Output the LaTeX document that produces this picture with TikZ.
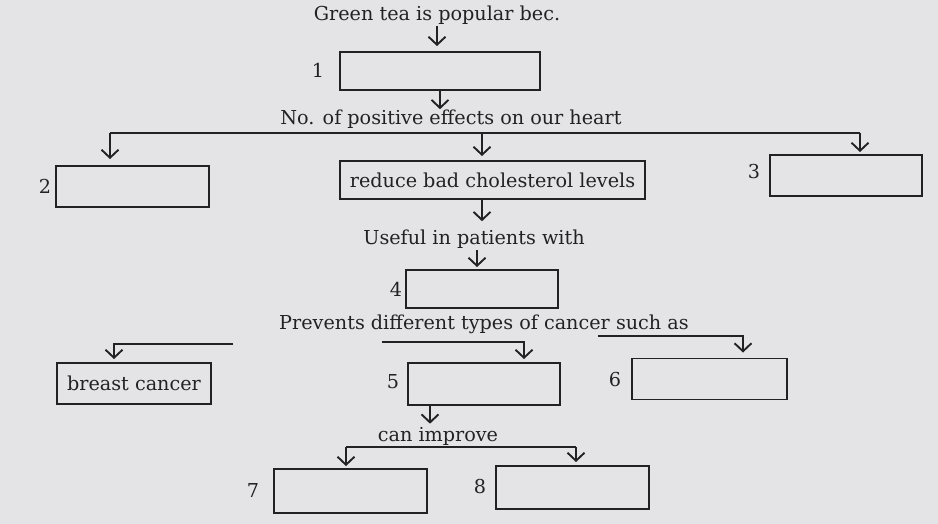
\documentclass[tikz,border=0pt]{standalone}
\usepackage{fontspec}
\newfontfamily\reffont{DejaVu Serif}
\usetikzlibrary{arrows.meta}
\definecolor{bg}{RGB}{228,228,231}
\definecolor{ink}{RGB}{34,34,36}
\tikzset{
  every node/.style={text=ink, font=\reffont\fontsize{19.2}{22}\selectfont, inner sep=0pt},
  box/.style={draw=ink, line width=1.9pt, rectangle},
  tx/.style={anchor=base},
  conn/.style={draw=ink, line width=1.9pt},
  arr/.style={conn, -{Straight Barb[length=8pt,width=17pt,line width=1.9pt]}},
}
\begin{document}
\begin{tikzpicture}[x=1pt,y=-1pt]
\fill[bg] (0,0) rectangle (938,524);
\useasboundingbox (0,0) rectangle (938,524);
% text nodes
\node[tx] (t0) at (437,20.5) {Green tea is popular bec.};
\node[tx] (t1) at (451,125) {No. of positive effects on our heart};
\node[tx] (t2) at (474,244) {Useful in patients with};
\node[tx] (t3) at (484,329) {Prevents different types of cancer such as};
\node[tx] (t4) at (438,441) {can improve};
% boxes
\node[box, minimum width=200, minimum height=38] (b1) at (440,71) {};
\node[box, minimum width=153, minimum height=41] (b2) at (132.5,186.5) {};
\node[box, minimum width=305, minimum height=38] (bc) at (492.5,180) {reduce bad cholesterol levels};
\node[box, minimum width=152, minimum height=41] (b3) at (846,175.5) {};
\node[box, minimum width=152, minimum height=38] (b4) at (482,289) {};
\node[box, minimum width=154, minimum height=41] (bb) at (134,383.5) {breast cancer};
\node[box, minimum width=152, minimum height=42] (b5) at (484,384) {};
\node[box, minimum width=155, minimum height=41] (b6) at (709.5,379) {};
\node[box, minimum width=153, minimum height=44] (b7) at (350.5,491) {};
\node[box, minimum width=153, minimum height=43] (b8) at (572.5,487.5) {};
% number labels
\node (n1) at (318,70) {1};
\node (n2) at (45,186) {2};
\node (n3) at (754,172) {3};
\node (n4) at (396,289) {4};
\node (n5) at (393,382) {5};
\node (n6) at (615,380) {6};
\node (n7) at (253,490) {7};
\node (n8) at (480,487) {8};
% branch coordinates
\coordinate (s0) at (437,26);
\coordinate (s1) at (440,90);
\coordinate (hL) at (110,133);
\coordinate (hM) at (482,133);
\coordinate (hR) at (860,133);
\coordinate (s2) at (482,199);
\coordinate (s3) at (477,250);
\coordinate (pL1) at (233,344);
\coordinate (pL2) at (114,344);
\coordinate (pM1) at (382,342);
\coordinate (pM2) at (524,342);
\coordinate (pR1) at (598,336);
\coordinate (pR2) at (743,336);
\coordinate (s5) at (430,405);
\coordinate (cL) at (346,447);
\coordinate (cR) at (576,447);
% connectors
\draw[arr, shorten >=5pt] (s0) -- (s0 |- b1.north);
\draw[arr, shorten >=1pt] (s1) -- (s1 |- t1.north);
\draw[conn] (hL) -- (hR);
\draw[arr, shorten >=6pt] (hL) -- (hL |- b2.north);
\draw[arr, shorten >=4pt] (hM) -- (hM |- bc.north);
\draw[arr, shorten >=2pt] (hR) -- (hR |- b3.north);
\draw[arr, shorten >=8pt] (s2) -- (s2 |- t2.north);
\draw[arr, shorten >=2pt] (s3) -- (s3 |- b4.north);
\draw[arr, shorten >=3pt] (pL1) -- (pL2) -- (pL2 |- bb.north);
\draw[arr, shorten >=3pt] (pM1) -- (pM2) -- (pM2 |- b5.north);
\draw[arr, shorten >=5pt] (pR1) -- (pR2) -- (pR2 |- b6.north);
\draw[arr, shorten >=3pt] (s5) -- (s5 |- t4.north);
\draw[conn] (cL) -- (cR);
\draw[arr, shorten >=2pt] (cL) -- (cL |- b7.north);
\draw[arr, shorten >=3pt] (cR) -- (cR |- b8.north);
\end{tikzpicture}
\end{document}
